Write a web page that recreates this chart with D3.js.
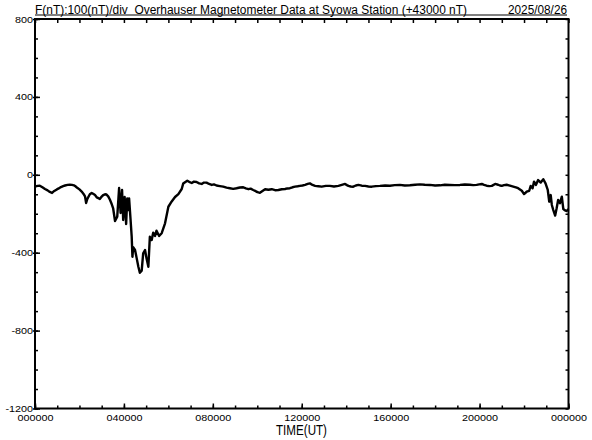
<!DOCTYPE html>
<html>
<head>
<meta charset="utf-8">
<script src="https://cdn.jsdelivr.net/npm/d3@7"></script>
<style>
  html, body { margin: 0; padding: 0; background: #fff; }
  svg { display: block; }
  text { font-family: "Liberation Sans", Arial, sans-serif; fill: #000; }
</style>
</head>
<body>
<svg id="chart" width="592" height="440"></svg>
<script>
// ---- data ----
const titleText = "F(nT):100(nT)/div  Overhauser Magnetometer Data at Syowa Station (+43000 nT)";
const dateText = "2025/08/26";
const xAxisTitle = "TIME(UT)";
const xTickValues = [0, 240, 480, 720, 960, 1200, 1440];          // minutes
const xTickLabels = ["000000", "040000", "080000", "120000", "160000", "200000", "000000"];
const yTickValues = [800, 400, 0, -400, -800, -1200];
const yTickLabels = ["800", "400", "0", "-400", "-800", "-1200"];

// minutes since 00 UT
const times = [
  0,7,13,20,27,34,40,46,52,59,
  64,70,76,81,88,94,100,105,109,113,
  120,126,131,135,138,141,144,148,153,158,
  162,167,171,175,180,184,189,193,198,202,
  207,211,216,222,
  227,231,235,238,242,246,249,252,254,258,
  261,263,265,270,274,279,283,288,292,297,
  301,306,310,315,319,324,328,335,342,351,
  360,369,378,387,396,
  400,405,411,416,423,429,436,443,450,456,
  463,470,477,483,490,499,508,517,526,535,
  544,553,562,569,576,582,589,594,598,603,
  607,614,621,630,639,648,657,666,675,681,
  688,695,702,709,715,722,729,736,742,749,
  756,765,774,785,796,807,819,828,837,842,
  846,852,859,866,873,882,891,900,909,920,
  931,945,958,971,985,998,1012,1026,1039,1052,
  1066,1080,1093,1106,1120,1133,1147,1160,1174,1183,
  1192,1199,1206,1212,1219,1226,1233,1242,1250,1255,
  1260,1266,1273,1282,1291,1298,1304,
  1314,1320,1327,1334,1338,1343,1347,1352,1358,1365,
  1372,1378,1384,1388,1392,1395,1399,1404,1408,1412,
  1417,1422,1426,1431,1435,1440];
// F - 43000 nT
const values = [
  -60,-57,-56,-64,-73,-80,-88,-93,-83,-75,
  -70,-63,-58,-55,-52,-51,-52,-54,-59,-65,
  -75,-86,-98,-111,-145,-125,-114,-100,-93,-99,
  -104,-116,-120,-124,-112,-104,-100,-101,-112,-127,
  -150,-173,-237,-215,
  -68,-196,-78,-232,-114,-253,-121,-181,-121,-232,
  -318,-421,-372,-386,-424,-472,-503,-492,-403,-386,
  -429,-472,-318,-335,-297,-314,-287,-314,-300,-249,
  -164,-137,-114,-99,-73,
  -45,-38,-30,-36,-42,-35,-37,-44,-47,-40,
  -40,-47,-52,-49,-55,-58,-61,-66,-69,-72,
  -69,-65,-64,-70,-74,-71,-78,-82,-87,-90,
  -92,-83,-74,-77,-74,-79,-78,-74,-73,-70,
  -69,-64,-61,-59,-57,-55,-52,-47,-44,-52,
  -57,-59,-61,-57,-57,-60,-57,-52,-47,-53,
  -57,-60,-61,-55,-52,-56,-57,-60,-61,-58,
  -57,-55,-56,-53,-52,-55,-54,-51,-49,-51,
  -52,-55,-54,-51,-52,-53,-52,-50,-51,-53,
  -52,-49,-47,-52,-56,-58,-57,-47,-51,-55,
  -57,-53,-51,-56,-61,-65,-69,
  -82,-99,-87,-82,-57,-69,-35,-52,-27,-40,
  -23,-44,-78,-138,-104,-155,-181,-209,-172,-129,
  -146,-112,-176,-183,-186,-176];

// ---- layout ----
const L = 35, R = 568.5, T = 19, B = 408.5;
const svg = d3.select("#chart");
const x = d3.scaleLinear().domain([0, 1440]).range([L, R]);
const y = d3.scaleLinear().domain([-1200, 800]).range([B, T]);

const hourTicks = d3.range(0, 1441, 60);
const minorY = d3.range(-1200, 801, 100);

function styleAxis(g) {
  g.select(".domain").remove();
  g.selectAll(".tick line").attr("stroke", "#000").attr("stroke-width", 1.5);
}

// bottom: minor hourly ticks (inside) + major with labels
svg.append("g").attr("transform", `translate(0,${B})`)
  .call(d3.axisBottom(x).tickValues(hourTicks).tickSize(-3).tickFormat(""))
  .call(styleAxis);
const xb = svg.append("g").attr("transform", `translate(0,${B})`)
  .call(d3.axisBottom(x).tickValues(xTickValues).tickSize(-5).tickPadding(8)
    .tickFormat((d, i) => xTickLabels[i]))
  .call(styleAxis);
xb.selectAll("text").attr("font-size", 9).attr("dy", 0).attr("y", 12)
  .attr("font-family", "Liberation Sans, Arial, sans-serif");

// top ticks
svg.append("g").attr("transform", `translate(0,${T})`)
  .call(d3.axisTop(x).tickValues(hourTicks).tickSize(-4).tickFormat(""))
  .call(styleAxis);

// left: minor + major with labels
svg.append("g").attr("transform", `translate(${L},0)`)
  .call(d3.axisLeft(y).tickValues(minorY).tickSize(-3).tickFormat(""))
  .call(styleAxis);
const yl = svg.append("g").attr("transform", `translate(${L},0)`)
  .call(d3.axisLeft(y).tickValues(yTickValues).tickSizeInner(-5).tickPadding(2)
    .tickFormat((d, i) => yTickLabels[i]))
  .call(styleAxis);
yl.selectAll(".tick").append("line").attr("x1", -2).attr("x2", 0)
  .attr("stroke", "#000").attr("stroke-width", 1.5);
yl.selectAll("text").attr("font-size", 9).attr("x", -2).attr("dy", "0.34em")
  .attr("font-family", "Liberation Sans, Arial, sans-serif");

// right ticks
svg.append("g").attr("transform", `translate(${R},0)`)
  .call(d3.axisRight(y).tickValues(minorY).tickSize(-3).tickFormat(""))
  .call(styleAxis);

// stretch axis digits horizontally (wide, short bitmap-like digits)
svg.selectAll(".tick text").each(function () {
  const w = this.getComputedTextLength();
  if (w > 0) d3.select(this).attr("textLength", w * 1.2).attr("lengthAdjust", "spacingAndGlyphs");
});

// frame
svg.append("rect").attr("x", L).attr("y", T).attr("width", R - L).attr("height", B - T)
  .attr("fill", "none").attr("stroke", "#000").attr("stroke-width", 2);

// data line
const pts = times.map((t, i) => [t, values[i]]);
const line = d3.line().x(d => x(d[0])).y(d => y(d[1]));
svg.append("path").datum(pts).attr("d", line)
  .attr("fill", "none").attr("stroke", "#000").attr("stroke-width", 2.4)
  .attr("stroke-linejoin", "round");

// title row
svg.append("text").attr("x", L).attr("y", 14).attr("font-size", 12)
  .style("white-space", "pre")
  .attr("textLength", 432).attr("lengthAdjust", "spacingAndGlyphs")
  .text(titleText);
svg.append("text").attr("x", 567).attr("y", 14).attr("font-size", 12)
  .attr("text-anchor", "end")
  .attr("textLength", 59).attr("lengthAdjust", "spacingAndGlyphs")
  .text(dateText);
svg.append("line").attr("x1", L).attr("x2", 567).attr("y1", 15).attr("y2", 15)
  .attr("stroke", "#000").attr("stroke-width", 1);

// x axis title
svg.append("text").attr("x", 276).attr("y", 435).attr("font-size", 15)
  .attr("textLength", 51).attr("lengthAdjust", "spacingAndGlyphs")
  .text(xAxisTitle);
</script>
</body>
</html>
